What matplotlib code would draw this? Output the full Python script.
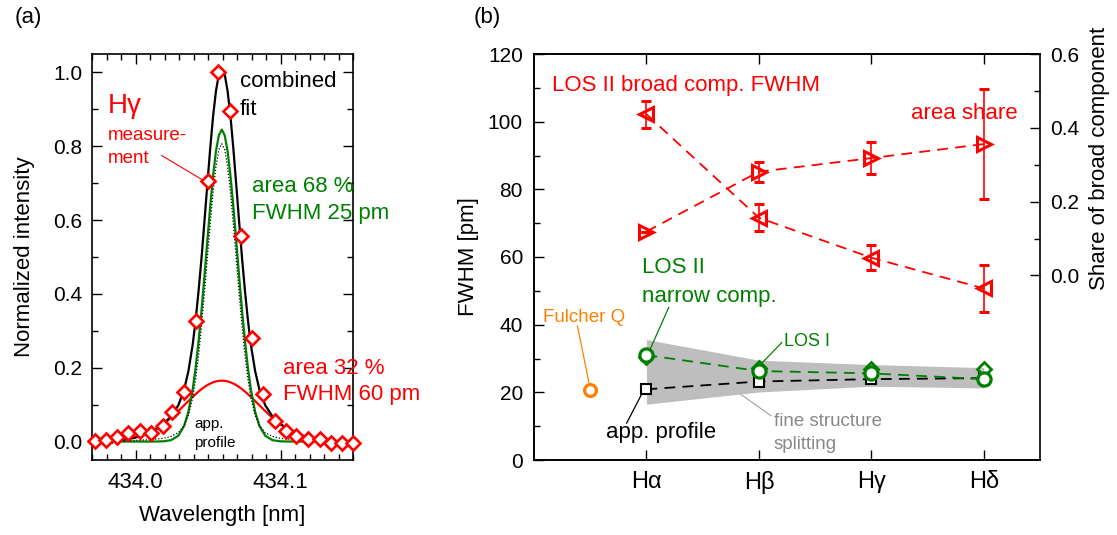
import matplotlib
matplotlib.use('Agg')
import matplotlib.pyplot as plt
from matplotlib.ticker import MultipleLocator
import numpy as np

plt.rcParams['font.family'] = ['Liberation Sans', 'DejaVu Sans']

RED = '#ff0000'
GREEN = '#008000'
ORANGE = '#ff8000'
BAND = '#bebebe'

# ---- (a) H-gamma profile: measurement and fit components ----
meas_wl = [433.9718, 433.9797, 433.9873, 433.9947, 434.0030, 434.0109, 434.0189, 434.0254,
           434.0335, 434.0420, 434.0497, 434.0571, 434.0649, 434.0728, 434.0804, 434.0882,
           434.0959, 434.1035, 434.1109, 434.1190, 434.1270, 434.1347, 434.1421, 434.1502]
meas_int = [0.002, 0.004, 0.013, 0.022, 0.028, 0.022, 0.042, 0.081,
            0.134, 0.326, 0.705, 1.000, 0.895, 0.558, 0.281, 0.129,
            0.056, 0.029, 0.014, 0.006, 0.006, -0.003, -0.003, -0.003]

fit_wl = [433.9690, 433.9795, 433.9895, 433.9995, 434.0095, 434.0145, 434.0195, 434.0245,
          434.0295, 434.0335, 434.0365, 434.0395, 434.0415, 434.0435, 434.0455, 434.0475,
          434.0495, 434.0515, 434.0535, 434.0555, 434.0575, 434.0595, 434.0615, 434.0635,
          434.0655, 434.0675, 434.0695, 434.0715, 434.0735, 434.0755, 434.0775, 434.0795,
          434.0825, 434.0855, 434.0895, 434.0945, 434.0995, 434.1045, 434.1095, 434.1195,
          434.1295, 434.1395, 434.1500]
fit_combined = [0.0003, 0.0012, 0.0038, 0.0103, 0.0241, 0.0348, 0.0488, 0.0680,
                0.0981, 0.140, 0.191, 0.264, 0.330, 0.408, 0.496, 0.594,
                0.695, 0.793, 0.881, 0.950, 0.995, 1.010, 0.995, 0.950,
                0.881, 0.793, 0.695, 0.594, 0.496, 0.408, 0.330, 0.264,
                0.191, 0.140, 0.0981, 0.0680, 0.0488, 0.0348, 0.0241, 0.0103,
                0.0038, 0.0012, 0.0003]
fit_narrow = [0, 0, 0, 0, 0, 0.0001, 0.0007, 0.0037,
              0.0156, 0.042, 0.081, 0.143, 0.201, 0.272, 0.354, 0.446,
              0.542, 0.636, 0.720, 0.787, 0.830, 0.845, 0.830, 0.787,
              0.720, 0.636, 0.542, 0.446, 0.354, 0.272, 0.201, 0.143,
              0.081, 0.042, 0.0156, 0.0037, 0.0007, 0.0001, 0, 0,
              0, 0, 0]
fit_broad = [0.0003, 0.0012, 0.0038, 0.0103, 0.0241, 0.0347, 0.0481, 0.0643,
             0.0825, 0.0980, 0.1098, 0.1213, 0.1286, 0.1355, 0.1419, 0.1477,
             0.1528, 0.1570, 0.1605, 0.1630, 0.1645, 0.1650, 0.1645, 0.1630,
             0.1605, 0.1570, 0.1528, 0.1477, 0.1419, 0.1355, 0.1286, 0.1213,
             0.1098, 0.0980, 0.0825, 0.0643, 0.0481, 0.0347, 0.0241, 0.0103,
             0.0038, 0.0012, 0.0003]
app_profile = [0.0, -0.010, 0.001, 0.003, 0.005, 0.007, 0.009, 0.014,
               0.024, 0.043, 0.072, 0.120, 0.170, 0.234, 0.312, 0.400,
               0.495, 0.588, 0.675, 0.745, 0.791, 0.807, 0.791, 0.745,
               0.675, 0.588, 0.495, 0.400, 0.312, 0.234, 0.170, 0.120,
               0.072, 0.043, 0.024, 0.014, 0.009, 0.007, 0.005, 0.003,
               0.001, 0.001, 0.0]

# ---- (b) line widths for the Balmer lines ----
balmer = ['Hα', 'Hβ', 'Hγ', 'Hδ']
broad_fwhm = [102.2, 71.6, 59.8, 50.7]
broad_fwhm_err = [4.0, 4.0, 3.6, 7.0]
area_share = [0.119, 0.281, 0.318, 0.356]
area_share_err = [0.0, 0.027, 0.044, 0.148]
narrow_los2 = [31.0, 26.3, 25.6, 23.9]
narrow_los1 = [30.3, 27.2, 27.0, 26.9]
app_fwhm = [20.9, 23.2, 23.9, 24.2]
fs_low = [16.5, 20.1, 21.8, 21.3]
fs_high = [35.6, 29.5, 28.2, 27.3]
fulcher_pos = 0.5
fulcher_fwhm = 20.7


def style_ticks(ax):
    ax.tick_params(which='both', direction='in', width=1.0, colors='black', labelsize=15)
    ax.tick_params(which='major', length=7)
    ax.tick_params(which='minor', length=4)
    for s in ax.spines.values():
        s.set_linewidth(1.2)


fig = plt.figure(figsize=(11.17, 5.35), dpi=100)

# ---------------- panel (a) ----------------
ax = fig.add_axes([92 / 1117, 75 / 535, 261 / 1117, 406 / 535])
ax.plot(fit_wl, fit_broad, color=RED, lw=1.6, zorder=2)
ax.plot(fit_wl, fit_narrow, color=GREEN, lw=1.6, zorder=3)
ax.plot(fit_wl, app_profile, color='black', lw=0.9, ls=(0, (1, 1.5)), zorder=3)
ax.plot(fit_wl, fit_combined, color='black', lw=1.6, zorder=4)
ax.plot(meas_wl, meas_int, ls='none', marker='D', ms=7.3, mfc='white', mec=RED, mew=1.9,
        zorder=5, clip_on=False)

ax.set_xlim(433.97, 434.15)
ax.set_ylim(-0.05, 1.05)
ax.set_xticks([434.0, 434.1])
ax.set_xticklabels(['434.0', '434.1'])
ax.xaxis.set_minor_locator(MultipleLocator(0.01))
ax.yaxis.set_major_locator(MultipleLocator(0.2))
ax.yaxis.set_minor_locator(MultipleLocator(0.1))
ax.yaxis.set_major_formatter(matplotlib.ticker.FormatStrFormatter('%.1f'))
style_ticks(ax)
ax.tick_params(top=True, right=True, which='both')
ax.tick_params(axis='x', pad=9, labelsize=16)
ax.tick_params(axis='y', pad=7)
ax.set_xlabel('Wavelength [nm]', fontsize=16, labelpad=8)
ax.set_ylabel('Normalized intensity', fontsize=16, labelpad=13)

ax.text(434.0721, 0.976, 'combined', fontsize=16, va='center')
ax.text(434.0721, 0.899, 'fit', fontsize=16, va='center')
ax.text(433.9811, 0.910, 'Hγ', fontsize=20, color=RED, va='center')
ax.text(433.9811, 0.830, 'measure-', fontsize=13.5, color=RED, va='center')
ax.text(433.9811, 0.766, 'ment', fontsize=13.5, color=RED, va='center')
ax.plot([434.018, 434.0462], [0.775, 0.709], color=RED, lw=0.8)
ax.text(434.0802, 0.692, 'area 68 %', fontsize=16, color=GREEN, va='center')
ax.text(434.0802, 0.618, 'FWHM 25 pm', fontsize=16, color=GREEN, va='center')
ax.text(434.1017, 0.199, 'area 32 %', fontsize=16, color=RED, va='center')
ax.text(434.1017, 0.127, 'FWHM 60 pm', fontsize=16, color=RED, va='center')
ax.text(434.0404, 0.047, 'app.', fontsize=11, va='center')
ax.text(434.0404, -0.004, 'profile', fontsize=11, va='center')

# ---------------- panel (b) ----------------
bx = fig.add_axes([534 / 1117, 75 / 535, 506 / 1117, 406 / 535])
x = np.arange(1, len(balmer) + 1)
dash = (0, (6, 4))

bx.fill_between(x, fs_low, fs_high, color=BAND, lw=0, zorder=1)
bx.plot(x, app_fwhm, color='black', ls=dash, lw=1.3, marker='s', ms=6.5,
        mfc='white', mec='black', mew=1.5, zorder=3)
bx.plot(x, narrow_los1, ls='none', marker='D', ms=7, mfc='none', mec=GREEN, mew=2,
        zorder=4)
bx.plot(x, narrow_los2, color=GREEN, ls=dash, lw=1.3, marker='o', ms=9.5,
        mfc='white', mec=GREEN, mew=2.3, zorder=5)
bx.plot([fulcher_pos], [fulcher_fwhm], ls='none', marker='o', ms=8.5, mfc='white',
        mec=ORANGE, mew=2.3, zorder=5)
bx.errorbar(x, broad_fwhm, yerr=broad_fwhm_err, color=RED, ls=dash, lw=1.3,
            marker='<', ms=10.5, mfc='none', mec=RED, mew=2.2, ecolor=RED, elinewidth=1.2,
            capsize=3.5, capthick=1.2, zorder=6)

bx.set_xlim(0, 4.5)
bx.set_ylim(0, 120)
bx.set_xticks(x)
bx.set_xticklabels(balmer)
bx.yaxis.set_major_locator(MultipleLocator(20))
bx.yaxis.set_minor_locator(MultipleLocator(10))
style_ticks(bx)
bx.tick_params(axis='x', top=True, pad=8, labelsize=17)
bx.tick_params(axis='y', pad=8)
bx.spines['right'].set_visible(False)
bx.set_ylabel('FWHM [pm]', fontsize=16, labelpad=6)

bx2 = bx.twinx()
bx2.errorbar(x, area_share, yerr=area_share_err, color=RED, ls=dash, lw=1.3,
             marker='>', ms=10.5, mfc='none', mec=RED, mew=2.2, ecolor=RED, elinewidth=1.2,
             capsize=3.5, capthick=1.2, zorder=6)
bx2.set_ylim(-0.5, 0.6)
bx2.set_yticks([0.0, 0.2, 0.4, 0.6])
bx2.set_yticks([0.1, 0.3, 0.5], minor=True)
bx2.yaxis.set_major_formatter(matplotlib.ticker.FormatStrFormatter('%.1f'))
style_ticks(bx2)
bx2.tick_params(axis='y', pad=7)
fig.text(1100 / 1117, 1 - 158 / 535, 'Share of broad component', fontsize=16,
         rotation=90, ha='center', va='center')

bx.text(0.164, 110.8, 'LOS II broad comp. FWHM', fontsize=16, color=RED, va='center')
bx.text(4.30, 102.5, 'area share', fontsize=16, color=RED, va='center', ha='right')
bx.text(0.96, 57.0, 'LOS II', fontsize=16, color=GREEN, va='center')
bx.text(0.96, 48.4, 'narrow comp.', fontsize=16, color=GREEN, va='center')
bx.plot([1.198, 1.03], [45.1, 32.5], color=GREEN, lw=0.9, zorder=2)
bx.text(2.227, 35.0, 'LOS I', fontsize=13, color=GREEN, va='center')
bx.plot([2.204, 2.016], [34.7, 28.3], color=GREEN, lw=0.9, zorder=2)
bx.text(0.08, 42.2, 'Fulcher Q', fontsize=13.5, color=ORANGE, va='center')
bx.plot([0.387, 0.49], [39.6, 22.6], color=ORANGE, lw=0.9, zorder=2)
bx.text(0.636, 8.0, 'app. profile', fontsize=16, va='center')
bx.plot([0.824, 0.966], [10.9, 20.0], color='black', lw=0.9, zorder=2)
bx.text(2.134, 11.3, 'fine structure', fontsize=13.5, color='#888888', va='center')
bx.text(2.134, 4.5, 'splitting', fontsize=13.5, color='#888888', va='center')
bx.plot([2.107, 1.835], [13.1, 19.5], color='#aaaaaa', lw=0.9, zorder=2)

fig.text(15 / 1117, 1 - 17 / 535, '(a)', fontsize=16, va='center')
fig.text(474 / 1117, 1 - 17 / 535, '(b)', fontsize=16, va='center')

fig.savefig('out.png', dpi=100)
